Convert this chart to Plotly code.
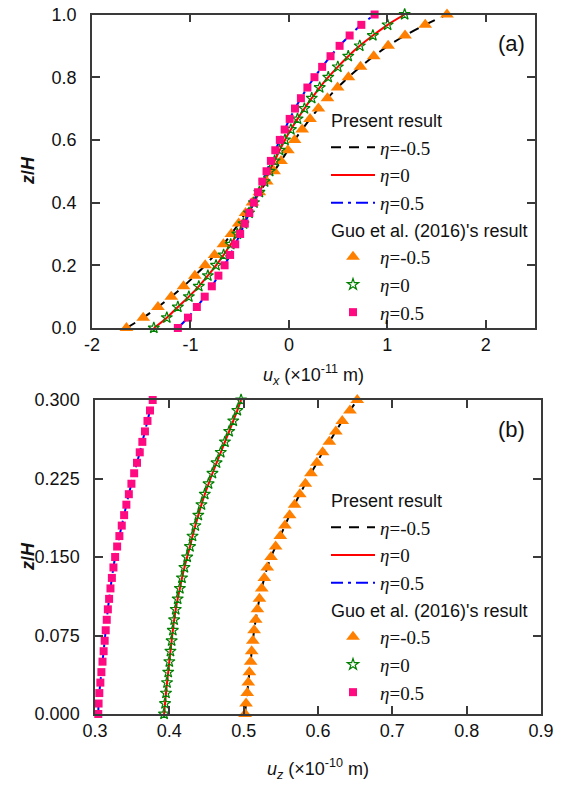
import plotly.graph_objects as go

# ---------------- panel (a): horizontal displacement u_x ----------------
z_a = [0.0, 0.033, 0.067, 0.1, 0.133, 0.167, 0.2, 0.233, 0.267, 0.3, 0.333,
       0.367, 0.4, 0.433, 0.467, 0.5, 0.533, 0.567, 0.6, 0.633, 0.667,
       0.7, 0.733, 0.767, 0.8, 0.833, 0.867, 0.9, 0.933, 0.967, 1.0]
ux_m05 = [-1.65, -1.48, -1.33, -1.195, -1.07, -0.955, -0.85, -0.755, -0.665, -0.585, -0.51,
          -0.44, -0.37, -0.30, -0.225, -0.15, -0.08, -0.01, 0.058, 0.135, 0.215,
          0.30, 0.392, 0.495, 0.605, 0.727, 0.862, 1.008, 1.18, 1.385, 1.606]
ux_0 = [-1.372, -1.24, -1.128, -1.016, -0.915, -0.823, -0.74, -0.663, -0.591, -0.524, -0.461,
        -0.405, -0.355, -0.30, -0.247, -0.195, -0.145, -0.094, -0.04, 0.02, 0.088,
        0.158, 0.232, 0.313, 0.40, 0.497, 0.603, 0.72, 0.853, 1.003, 1.176]
ux_p05 = [-1.128, -1.025, -0.935, -0.855, -0.783, -0.716, -0.653, -0.597, -0.545, -0.495, -0.448,
          -0.402, -0.357, -0.313, -0.27, -0.227, -0.183, -0.138, -0.092, -0.043, 0.008,
          0.062, 0.122, 0.188, 0.26, 0.338, 0.423, 0.515, 0.617, 0.736, 0.871]
ux_ticks = [-2, -1, 0, 1, 2]
ux_ticktext = ["-2", "-1", "0", "1", "2"]

# ---------------- panel (b): vertical displacement u_z ----------------
z_b = [0.0, 0.01, 0.02, 0.03, 0.04, 0.05, 0.06, 0.07, 0.08, 0.09, 0.10,
       0.11, 0.12, 0.13, 0.14, 0.15, 0.16, 0.17, 0.18, 0.19, 0.20,
       0.21, 0.22, 0.23, 0.24, 0.25, 0.26, 0.27, 0.28, 0.29, 0.30]
uz_m05 = [0.5019, 0.5032, 0.5048, 0.5062, 0.5077, 0.5094, 0.5108, 0.5123, 0.5141, 0.5162, 0.5185,
          0.5212, 0.5243, 0.5278, 0.5318, 0.5368, 0.5430, 0.5493, 0.5555, 0.5618, 0.5685,
          0.5755, 0.5830, 0.5905, 0.5985, 0.6062, 0.6153, 0.6240, 0.6326, 0.6430, 0.6528]
uz_0 = [0.3929, 0.3942, 0.3955, 0.3969, 0.3985, 0.4000, 0.4015, 0.4031, 0.4047, 0.4065, 0.4086,
        0.4112, 0.4142, 0.4170, 0.4203, 0.4240, 0.4278, 0.4312, 0.4350, 0.4390, 0.4432,
        0.4477, 0.4528, 0.4580, 0.4635, 0.4692, 0.4748, 0.4805, 0.4860, 0.4915, 0.4965]
uz_p05 = [0.3044, 0.3048, 0.3058, 0.3072, 0.3086, 0.3101, 0.3116, 0.3130, 0.3144, 0.3158, 0.3173,
          0.3190, 0.3208, 0.3227, 0.3248, 0.3271, 0.3298, 0.3328, 0.3360, 0.3392, 0.3422,
          0.3455, 0.3490, 0.3527, 0.3565, 0.3602, 0.3637, 0.3672, 0.3706, 0.3740, 0.3776]

eta_labels = ["<i>η</i>=-0.5", "<i>η</i>=0", "<i>η</i>=0.5"]
line_styles = [("#000000", "10px,8px"), ("#FF0000", "solid"), ("#0000FF", "12px,5px,3px,5px")]
marker_styles = [
    dict(symbol="triangle-up", size=12, color="#FF8000"),
    dict(symbol="star-open", size=8.5, color="#008000", line=dict(width=1.2, color="#008000")),
    dict(symbol="square", size=8, color="#FF0A80"),
]

SANS = "Liberation Sans"
SERIF = "Liberation Serif"
W, H = 561, 785

fig = go.Figure()


def add_panel(z, series, xa, ya, legend_name, tag):
    for i, (xs, lab) in enumerate(zip(series, eta_labels)):
        color, dash = line_styles[i]
        kw = {}
        if i == 0:
            kw = dict(legendgrouptitle=dict(text="Present result",
                                            font=dict(family=SANS, size=18, color="#111")))
        fig.add_trace(go.Scatter(
            x=xs, y=z, mode="lines", name=lab, xaxis=xa, yaxis=ya,
            line=dict(color=color, width=2, dash=dash, shape="spline"),
            legend=legend_name, legendgroup="present" + tag, **kw))
    for i, (xs, lab) in enumerate(zip(series, eta_labels)):
        kw = {}
        if i == 0:
            kw = dict(legendgrouptitle=dict(text="Guo et al. (2016)'s result",
                                            font=dict(family=SANS, size=18, color="#111")))
        fig.add_trace(go.Scatter(
            x=xs, y=z, mode="markers", name=lab, xaxis=xa, yaxis=ya,
            marker=marker_styles[i], cliponaxis=False,
            legend=legend_name, legendgroup="guo" + tag, **kw))


add_panel(z_a, [ux_m05, ux_0, ux_p05], "x", "y", "legend", "a")
add_panel(z_b, [uz_m05, uz_0, uz_p05], "x2", "y2", "legend2", "b")

axis_common = dict(
    showline=True, linecolor="#3a3a3a", linewidth=1.5, mirror="ticks",
    ticks="inside", ticklen=8, tickwidth=1.5, tickcolor="#3a3a3a",
    showgrid=False, zeroline=False, automargin=False,
    tickfont=dict(family=SANS, size=18, color="#111"),
)
title_font = dict(family=SANS, size=18, color="#111")


def text_note(text, x, y, size, angle=0):
    return dict(text=text, x=x / W, y=(H - y) / H, xref="paper", yref="paper",
                xanchor="center", yanchor="middle", textangle=angle, showarrow=False,
                font=dict(family=SANS, size=size, color="#111"))


fig.update_layout(
    template="none",
    width=W, height=H,
    margin=dict(l=0, r=0, t=0, b=0, autoexpand=False),
    paper_bgcolor="white", plot_bgcolor="white",
    xaxis=dict(domain=[92 / W, 535 / W], range=[-2, 2.5], tickvals=ux_ticks, ticktext=ux_ticktext,
               anchor="y",
               title=dict(text="<i>u<sub>x</sub></i> (×10<sup>-11</sup> m)", font=title_font, standoff=14),
               ticklabelstandoff=0, **axis_common),
    yaxis=dict(domain=[(H - 328) / H, (H - 14.5) / H], range=[0, 1], dtick=0.2, tickformat=".1f",
               anchor="x", ticklabelstandoff=10, **axis_common),
    xaxis2=dict(domain=[95 / W, 541 / W], range=[0.3, 0.9], tick0=0.3, dtick=0.1, tickformat=".1f",
                anchor="y2",
                title=dict(text="<i>u<sub>z</sub></i> (×10<sup>-10</sup> m)", font=title_font, standoff=22),
                ticklabelstandoff=0, **axis_common),
    yaxis2=dict(domain=[(H - 714) / H, (H - 400) / H], range=[0, 0.3], dtick=0.075, tickformat=".3f",
                anchor="x2", ticklabelstandoff=10, **axis_common),
    legend=dict(x=326 / W, y=(H - 102) / H, xanchor="left", yanchor="top",
                bgcolor="rgba(0,0,0,0)", font=dict(family=SERIF, size=19, color="#111"),
                itemwidth=44, tracegroupgap=0, traceorder="grouped"),
    legend2=dict(x=326 / W, y=(H - 482) / H, xanchor="left", yanchor="top",
                 bgcolor="rgba(0,0,0,0)", font=dict(family=SERIF, size=19, color="#111"),
                 itemwidth=44, tracegroupgap=0, traceorder="grouped"),
    annotations=[
        text_note("<b><i>z</i>/<i>H</i></b>", 28, 171, 18, -90),
        text_note("<b><i>z</i>/<i>H</i></b>", 28, 557, 18, -90),
        text_note("(a)", 511, 44, 22),
        text_note("(b)", 511, 429, 22),
    ],
)

fig.write_html("out.html")
